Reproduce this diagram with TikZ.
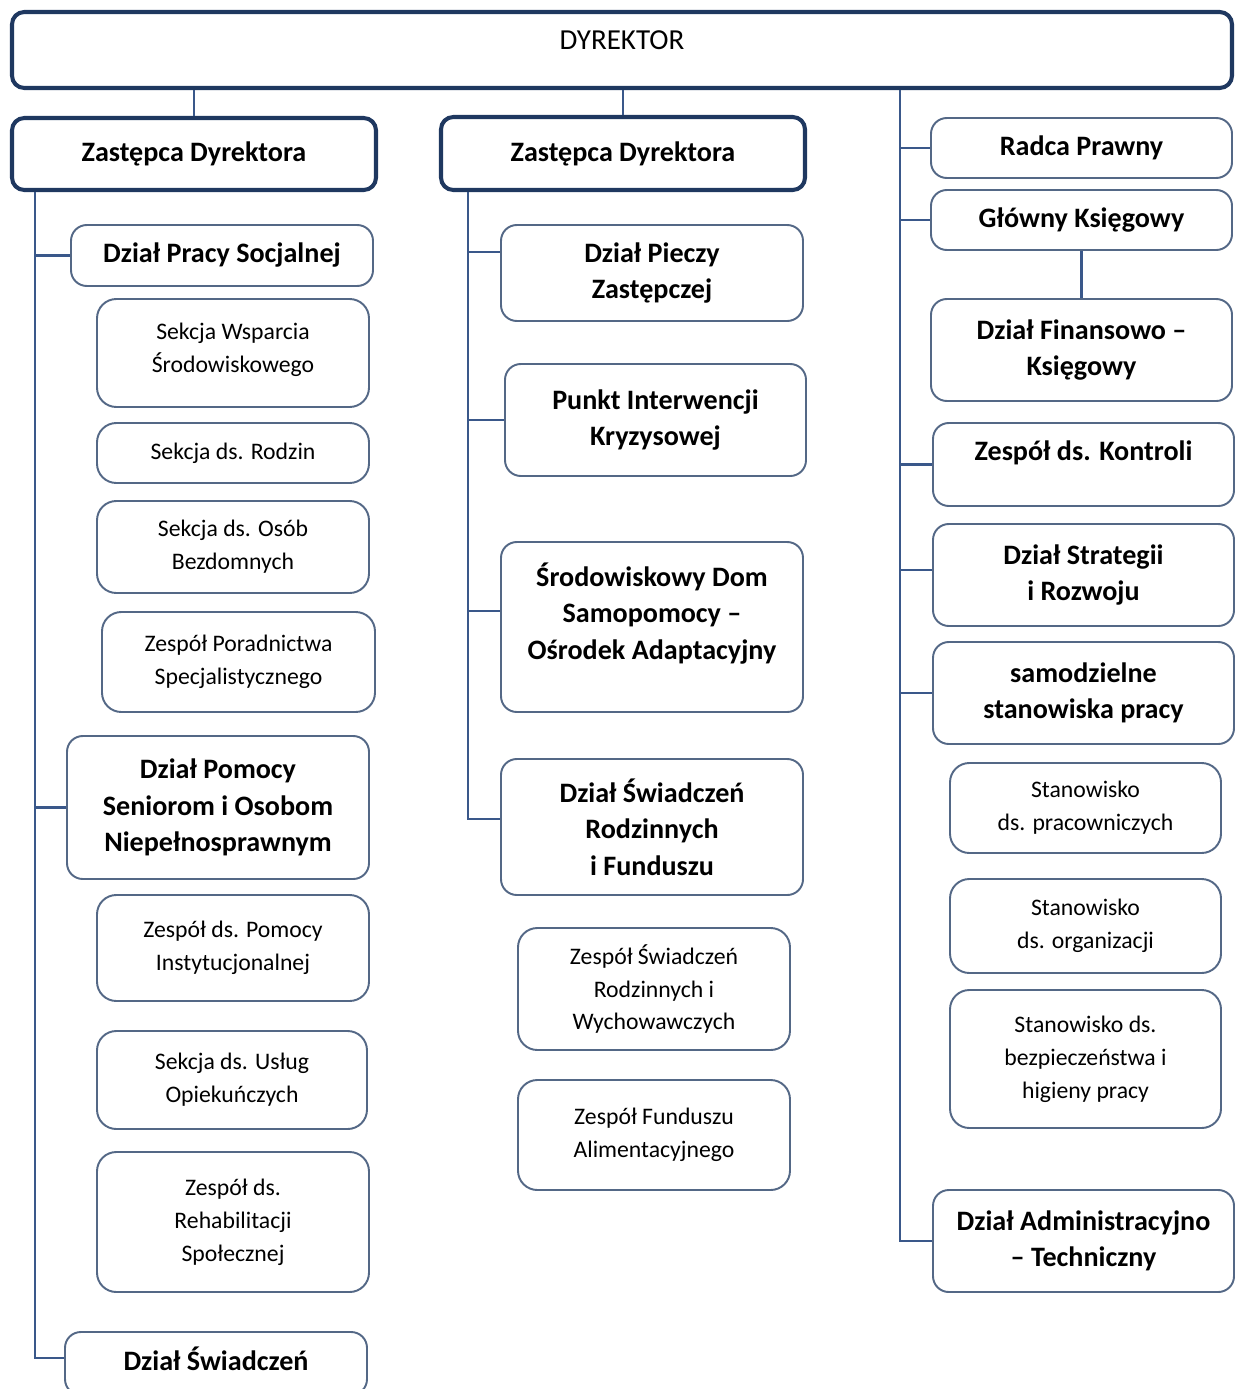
\documentclass[tikz,border=0pt]{standalone}
\usepackage{fontspec}
\setmainfont{Carlito}

\definecolor{navy}{RGB}{31,56,96}
\definecolor{frameblue}{RGB}{84,104,134}
\definecolor{linkblue}{RGB}{58,88,138}

\newcommand{\hdfont}{\fontsize{16}{20.7}\selectfont\bfseries}
\newcommand{\smfont}{\fontsize{13.5}{18.7}\selectfont}

\tikzstyle{link} = [line width=1.2pt, draw=linkblue]
\tikzstyle{head} = [
        rectangle,
        rounded corners=7pt,
        draw=navy,
        line width=2.3pt,
        fill=white,
        align=center,
        font=\hdfont,
    ]
\tikzstyle{dept} = [
        rectangle,
        rounded corners=9pt,
        draw=frameblue,
        line width=1.1pt,
        fill=white,
        align=center,
        font=\hdfont,
    ]
\tikzstyle{unit} = [
        rectangle,
        rounded corners=11pt,
        draw=frameblue,
        line width=1.1pt,
        fill=white,
        align=center,
        font=\smfont,
    ]
\tikzset{dim/.style 2 args={minimum width=#1*0.02cm, minimum height=#2*0.02cm, inner sep=1pt}}

\begin{document}
\begin{tikzpicture}[x=0.02cm, y=-0.02cm]
            \useasboundingbox (0,0) rectangle (1234,1389);
            % top level
            \node [head, dim={1220}{76}, text depth=11pt, font=\fontsize{16.5}{20}\selectfont] (dyr) at (622,50) {DYREKTOR};
            \node [head, dim={364}{72}] (zl) at (194,154) {Zastępca Dyrektora};
            \node [head, dim={364}{73}] (zm) at (623,153.5) {Zastępca Dyrektora};
            % left column
            \node [dept, dim={302}{61}] (dps) at (222,255.5) {Dział Pracy Socjalnej};
            \node [unit, dim={272}{108}, text depth=6pt] (swsr) at (233,353) {Sekcja Wsparcia\\Środowiskowego};
            \node [unit, dim={272}{60}] (srodz) at (233,453) {Sekcja ds. Rodzin};
            \node [unit, dim={272}{92}] (sbezd) at (233,547) {Sekcja ds. Osób\\Bezdomnych};
            \node [unit, dim={273}{100}] (zporad) at (238.5,662) {Zespół Poradnictwa\\Specjalistycznego};
            \node [dept, dim={302}{143}] (dpom) at (218,807.5) {Dział Pomocy\\Seniorom i Osobom\\Niepełnosprawnym};
            \node [unit, dim={272}{106}] (zinst) at (233,948) {Zespół ds. Pomocy\\Instytucjonalnej};
            \node [unit, dim={270}{98}] (susl) at (232,1080) {Sekcja ds. Usług\\Opiekuńczych};
            \node [unit, dim={272}{140}] (zreh) at (233,1222) {Zespół ds.\\Rehabilitacji\\Społecznej};
            \node [dept, dim={302}{63}, text depth=6pt] (dsw) at (216,1363.5) {Dział Świadczeń};
            % middle column
            \node [dept, dim={302}{96}] (dpz) at (652,273) {Dział Pieczy\\Zastępczej};
            \node [dept, dim={301}{112}] (pik) at (655.5,420) {Punkt Interwencji\\Kryzysowej};
            \node [dept, dim={302}{170}, text depth=18pt] (sds) at (652,627) {Środowiskowy Dom\\Samopomocy –\\Ośrodek Adaptacyjny};
            \node [dept, dim={302}{136}] (dsr) at (652,827) {Dział Świadczeń\\Rodzinnych\\i Funduszu};
            \node [unit, dim={272}{122}] (zsr) at (654,989) {Zespół Świadczeń\\Rodzinnych i\\Wychowawczych};
            \node [unit, dim={272}{110}] (zfa) at (654,1135) {Zespół Funduszu\\Alimentacyjnego};
            % right column
            \node [dept, dim={301}{60}] (rp) at (1081.5,148) {Radca Prawny};
            \node [dept, dim={301}{60}] (gk) at (1081.5,220) {Główny Księgowy};
            \node [dept, dim={301}{102}] (dfk) at (1081.5,350) {Dział Finansowo –\\Księgowy};
            \node [dept, dim={301}{83}, text depth=16pt] (zk) at (1083.5,464.5) {Zespół ds. Kontroli};
            \node [dept, dim={301}{102}] (dsir) at (1083.5,575) {Dział Strategii\\i Rozwoju};
            \node [dept, dim={301}{102}] (ssp) at (1083.5,693) {samodzielne\\stanowiska pracy};
            \node [unit, dim={271}{90}] (stp) at (1085.5,808) {Stanowisko\\ds. pracowniczych};
            \node [unit, dim={271}{94}] (sto) at (1085.5,926) {Stanowisko\\ds. organizacji};
            \node [unit, dim={271}{138}] (stb) at (1085.5,1059) {Stanowisko ds.\\bezpieczeństwa i\\higieny pracy};
            \node [dept, dim={301}{102}] (dat) at (1083.5,1241) {Dział Administracyjno\\– Techniczny};
            % bus lines
            \coordinate (lbus) at (35,0);
            \coordinate (mbus) at (468,0);
            \coordinate (rbus) at (900,0);
            \draw [link] (dyr.south -| zl.north) -- (zl.north);
            \draw [link] (dyr.south -| zm.north) -- (zm.north);
            \draw [link] (zl.south -| lbus) |- (dsw.178);
            \draw [link] (lbus |- dps.west) -- (dps.west);
            \draw [link] (lbus |- dpom.west) -- (dpom.west);
            \draw [link] (zm.south -| mbus) |- (dsr.177);
            \draw [link] (mbus |- dpz.172) -- (dpz.172);
            \draw [link] (mbus |- pik.west) -- (pik.west);
            \draw [link] (mbus |- sds.174) -- (sds.174);
            \draw [link] (dyr.south -| rbus) |- (dat.west);
            \draw [link] (rbus |- rp.west) -- (rp.west);
            \draw [link] (rbus |- gk.west) -- (gk.west);
            \draw [link] (rbus |- zk.west) -- (zk.west);
            \draw [link] (rbus |- dsir.178) -- (dsir.178);
            \draw [link] (rbus |- ssp.west) -- (ssp.west);
            \draw [link] (gk.south) -- (dfk.north);
        \end{tikzpicture}
\end{document}
